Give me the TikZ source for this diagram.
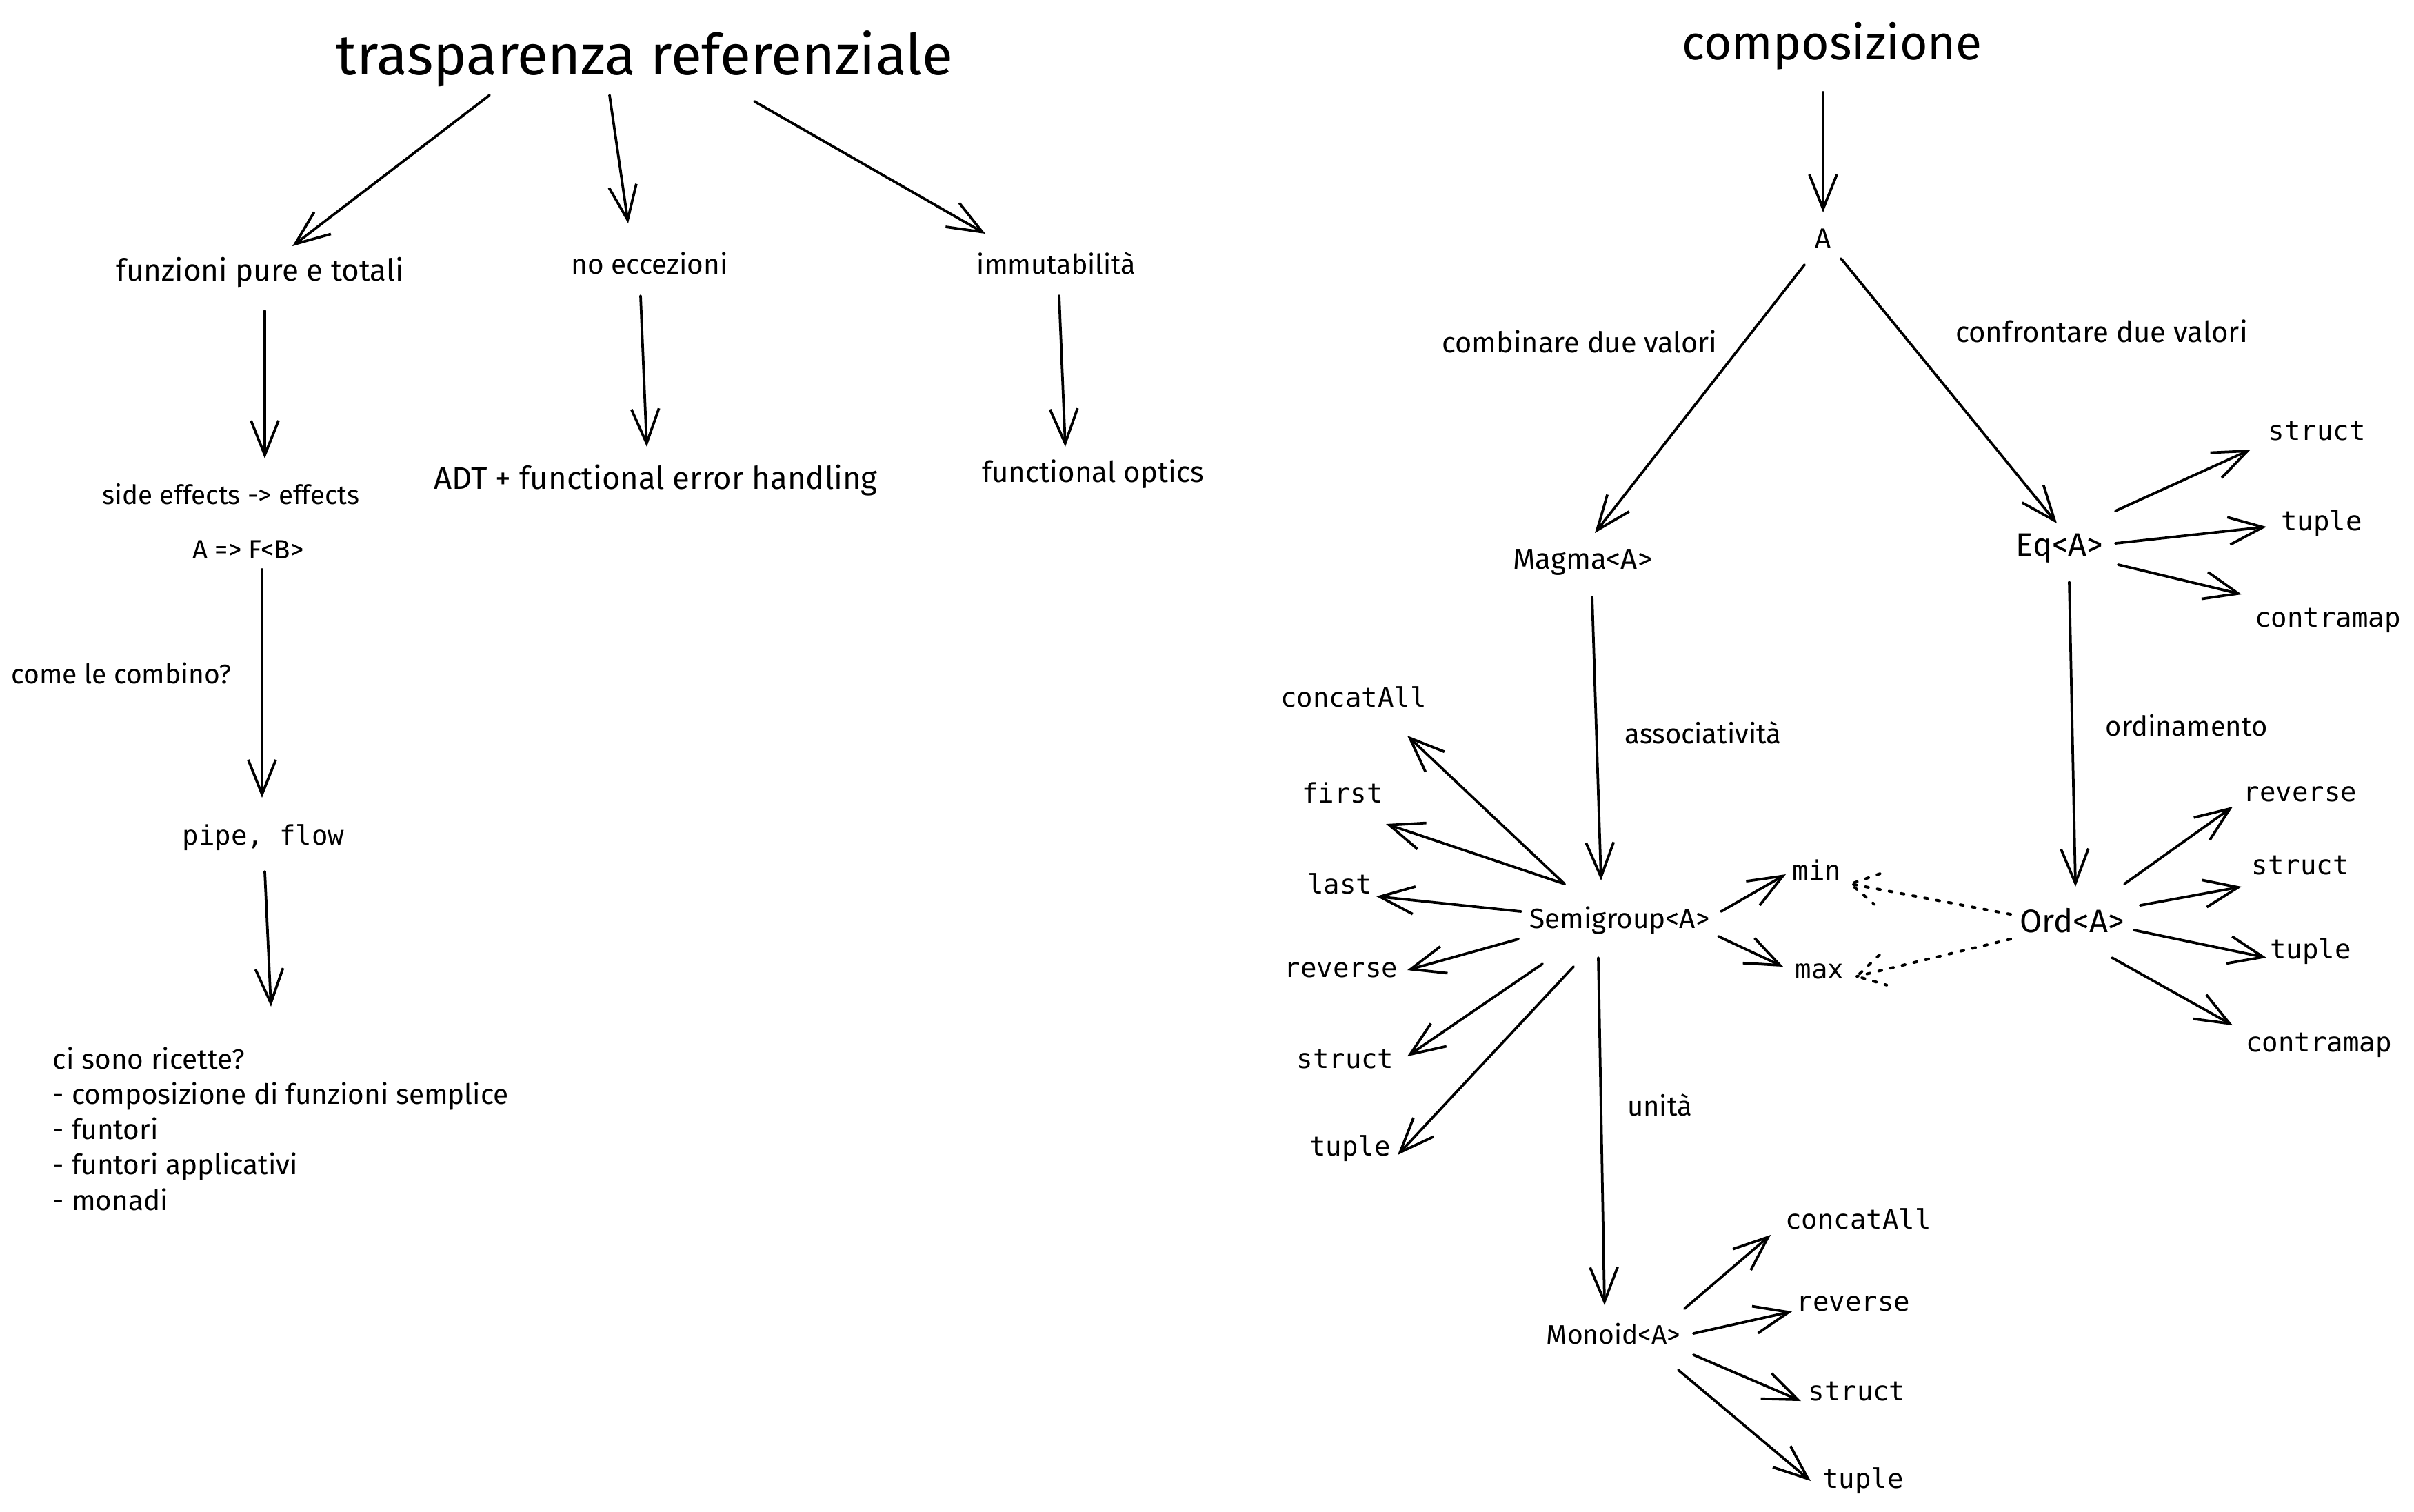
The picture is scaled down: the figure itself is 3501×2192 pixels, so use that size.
\documentclass[tikz,border=0pt]{standalone}
\usepackage{fontspec}
\setmainfont{Fira Sans}
\newfontfamily\codefont{DejaVu Sans Mono}
\usetikzlibrary{arrows.meta,calc}
\begin{document}
\begin{tikzpicture}[x=0.2pt,y=-0.2pt,
  hand/.style={font=\fontsize{#1}{10.25}\selectfont, inner sep=0pt},
  hand/.default=8,
  handt/.style={font=\fontsize{#1}{18}\selectfont, inner sep=0pt},
  code/.style={font=\codefont\fontsize{7.8}{9}\selectfont, inner sep=0pt},
  arr/.style={line width=0.75pt, line cap=round, -{Straight Barb[length=10pt,width=8pt,line width=0.75pt]}},
  dotarr/.style={line width=0.8pt, dash pattern=on 0.9pt off 2.6pt, line cap=round},
]
\useasboundingbox[fill=white] (0,0) rectangle (3501,2192);

% ---------- left part ----------
\node[handt=16.4] (tit) at (935,85) {trasparenza referenziale};
\node[hand=8.8] (funz) at (377,395) {funzioni pure e totali};
\node[hand=8.1] (noecc) at (942,382) {no eccezioni};
\node[hand=7.9] (immut) at (1532,382) {immutabilità};
\node[hand=7.7] (side) at (335,717) {side effects -> effects};
\node[hand=7.7] (afb) at (360,797) {A => F<B>};
\node[hand=7.8] (come) at (176,976) {come le combino?};
\node[code] (pipe) at (382,1215) {pipe, flow};
\node[hand=8.1, anchor=west, align=left] (ric) at (76,1637) {ci sono ricette?\\- composizione di funzioni semplice\\- funtori\\- funtori applicativi\\- monadi};
\node[hand=9.1] (adt) at (951,697) {ADT + functional error handling};
\node[hand=8.4] (optics) at (1585,688) {functional optics};

\draw[arr] ($(tit)+(-225,53)$) -- ($(funz)+(47,-38)$);
\draw[arr] ($(tit)+(-51,53)$) -- ($(noecc)+(-31,-58)$);
\draw[arr] ($(tit)+(159,62)$) -- ($(immut)+(-103,-43)$);
\draw[arr] ($(funz)+(7,56)$) -- ($(side)+(49,-52)$);
\draw[arr] ($(noecc)+(-13,47)$) -- ($(adt)+(-13,-49)$);
\draw[arr] ($(immut)+(4,47)$) -- ($(optics)+(-40,-40)$);
\draw[arr] ($(afb)+(20,29)$) -- ($(pipe)+(-2,-58)$);
\draw[arr] ($(pipe)+(2,49)$) -- ($(ric.west)+(317,-177)$);

% ---------- right part ----------
\node[handt=13.9] (comp) at (2657,67) {composizione};
\node[hand] (a) at (2644,346) {A};
\node[hand=8.3] (comb) at (2291,496) {combinare due valori};
\node[hand=8.4] (conf) at (3048,480) {confrontare due valori};
\node[hand=8.4] (magma) at (2295,815) {Magma<A>};
\node[hand=9.4] (eq) at (2987,795) {Eq<A>};
\node[code] (eqstruct) at (3360,625) {struct};
\node[code] (eqtuple) at (3367,759) {tuple};
\node[code] (eqcontra) at (3376,900) {contramap};
\node[hand=8] (ordin) at (3171,1052) {ordinamento};
\node[hand=9.4] (ord) at (3005,1335) {Ord<A>};
\node[code] (ordrev) at (3336,1152) {reverse};
\node[code] (ordstruct) at (3336,1255) {struct};
\node[code] (ordtuple) at (3351,1380) {tuple};
\node[code] (ordcontra) at (3363,1516) {contramap};
\node[hand=8] (assoc) at (2470,1063) {associatività};
\node[hand=8.1] (semi) at (2349,1335) {Semigroup<A>};
\node[code] (sgconcat) at (1963,1011) {concatAll};
\node[code] (sgfirst) at (1947,1150) {first};
\node[code] (sglast) at (1943,1282) {last};
\node[code] (sgrev) at (1945,1407) {reverse};
\node[code] (sgstruct) at (1951,1536) {struct};
\node[code] (sgtuple) at (1958,1666) {tuple};
\node[code] (min) at (2635,1262) {min};
\node[code] (max) at (2639,1409) {max};
\node[hand=8] (unita) at (2407,1603) {unità};
\node[hand=7.8] (monoid) at (2340,1934) {Monoid<A>};
\node[code] (mconcat) at (2695,1768) {concatAll};
\node[code] (mrev) at (2688,1891) {reverse};
\node[code] (mstruct) at (2693,2018) {struct};
\node[code] (mtuple) at (2702,2148) {tuple};

\draw[arr] ($(comp)+(-13,67)$) -- ($(a)+(0,-38)$);
\draw[arr] ($(a)+(-27,38)$) -- ($(magma)+(18,-42)$);
\draw[arr] ($(a)+(26,29)$) -- ($(eq)+(-4,-36)$);
\draw[arr] ($(eq)+(81,-54)$) -- ($(eqstruct)+(-96,27)$);
\draw[arr] ($(eq)+(81,-7)$) -- ($(eqtuple)+(-80,5)$);
\draw[arr] ($(eq)+(85,24)$) -- ($(eqcontra)+(-125,-38)$);
\draw[arr] ($(eq)+(14,49)$) -- ($(ord)+(5,-49)$);
\draw[arr] ($(ord)+(76,-53)$) -- ($(ordrev)+(-98,18)$);
\draw[arr] ($(ord)+(99,-22)$) -- ($(ordstruct)+(-85,31)$);
\draw[arr] ($(ord)+(90,14)$) -- ($(ordtuple)+(-64,9)$);
\draw[arr] ($(ord)+(58,54)$) -- ($(ordcontra)+(-125,-29)$);
\draw[arr] ($(magma)+(14,51)$) -- ($(semi)+(-27,-58)$);
\draw[arr] ($(semi)+(-80,-53)$) -- ($(sgconcat)+(78,56)$);
\draw[arr] ($(semi)+(-80,-53)$) -- ($(sgfirst)+(63,45)$);
\draw[arr] ($(semi)+(-143,-13)$) -- ($(sglast)+(53,18)$);
\draw[arr] ($(semi)+(-147,27)$) -- ($(sgrev)+(96,0)$);
\draw[arr] ($(semi)+(-112,63)$) -- ($(sgstruct)+(90,-4)$);
\draw[arr] ($(semi)+(-67,67)$) -- ($(sgtuple)+(69,9)$);
\draw[arr] ($(semi)+(147,-13)$) -- ($(min)+(-45,6)$);
\draw[arr] ($(semi)+(143,23)$) -- ($(max)+(-53,-7)$);
\draw[arr] ($(semi)+(-31,54)$) -- ($(monoid)+(-13,-41)$);
\draw[arr] ($(monoid)+(103,-36)$) -- ($(mconcat)+(-127,23)$);
\draw[arr] ($(monoid)+(116,0)$) -- ($(mrev)+(-89,11)$);
\draw[arr] ($(monoid)+(116,31)$) -- ($(mstruct)+(-81,14)$);
\draw[arr] ($(monoid)+(94,53)$) -- ($(mtuple)+(-76,0)$);

% dotted arrows Ord -> min / max
\coordinate (d1s) at ($(ord)+(-89,-9)$);
\coordinate (d1e) at ($(min)+(49,20)$);
\coordinate (d2s) at ($(ord)+(-89,27)$);
\coordinate (d2e) at ($(max)+(54,7)$);
\draw[dotarr] (d1s) -- (d1e);
\draw[dotarr] ($(d1e)!9pt!30:(d1s)$) -- (d1e) -- ($(d1e)!9pt!-30:(d1s)$);
\draw[dotarr] (d2s) -- (d2e);
\draw[dotarr] ($(d2e)!9pt!30:(d2s)$) -- (d2e) -- ($(d2e)!9pt!-30:(d2s)$);
\end{tikzpicture}
\end{document}
